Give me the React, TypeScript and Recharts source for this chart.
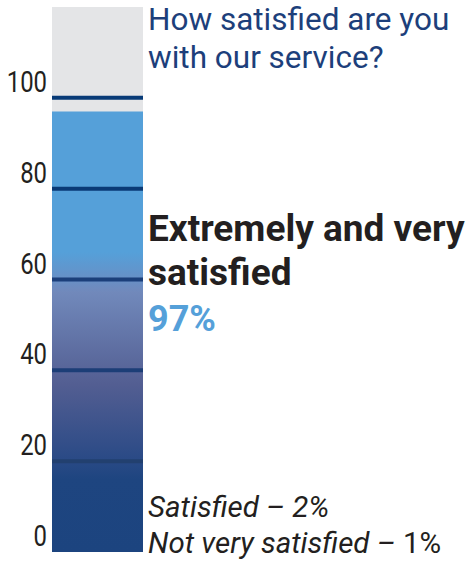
import React from 'react';
import { BarChart, Bar, XAxis, YAxis, ReferenceLine } from 'recharts';

const categories = ['Service'];
const satisfiedShare = [97];
const tickValues = [0, 20, 40, 60, 80, 100];
const gridLevels = [20, 40, 60, 80, 100];
const gridColors = ['#22406f', '#1c3e77', '#1b3f7a', '#0a3a76', '#073a77'];

const rows = categories.map((name, i) => ({ name, share: satisfiedShare[i] }));

const W = 468;
const H = 566;
const AXIS_W = 52;

const renderTick = (props: any) => {
  const { y, payload } = props;
  return (
    <text
      transform={`translate(${AXIS_W - 5}, ${y - 6}) scale(0.81, 1)`}
      textAnchor="end"
      fill="#231f20"
      fontSize={29.5}
      fontFamily="Roboto"
    >
      {payload.value}
    </text>
  );
};

export default function App() {
  return (
    <div style={{ position: 'absolute', left: 0, top: 0, width: W, height: H, background: '#fff' }}>
      <BarChart
        width={W}
        height={H}
        data={rows}
        margin={{ top: 7, right: W - 143, bottom: H - 552, left: 0 }}
        barCategoryGap={0}
      >
        <defs>
          <linearGradient id="satGrad" x1="0" y1="0" x2="0" y2="1">
            <stop offset="0" stopColor="#55a0d9" />
            <stop offset="0.32" stopColor="#55a0d9" />
            <stop offset="0.38" stopColor="#6790c6" />
            <stop offset="0.41" stopColor="#7189bb" />
            <stop offset="0.62" stopColor="#535e92" />
            <stop offset="0.79" stopColor="#2a4a86" />
            <stop offset="0.835" stopColor="#1e4580" />
            <stop offset="1" stopColor="#1c447f" />
          </linearGradient>
        </defs>
        <XAxis dataKey="name" hide />
        <YAxis
          width={AXIS_W}
          domain={[0, 120]}
          ticks={tickValues}
          axisLine={false}
          tickLine={false}
          tick={renderTick}
          interval={0}
        />
        <Bar
          dataKey="share"
          fill="url(#satGrad)"
          background={{ fill: '#e4e5e7' }}
          isAnimationActive={false}
        />
        {gridLevels.map((v, i) => (
          <ReferenceLine key={v} y={v} stroke={gridColors[i]} strokeWidth={4} />
        ))}
      </BarChart>
      <svg
        width={W}
        height={H}
        style={{ position: 'absolute', left: 0, top: 0, pointerEvents: 'none' }}
        fontFamily="Roboto"
      >
        <text x={148} y={30} fontSize={31.5} fill="#1d3f7b">How satisfied are you</text>
        <text x={148} y={68} fontSize={31.5} fill="#1d3f7b">with our service?</text>
        <text x={148} y={241} fontSize={37} fontWeight={700} fill="#231f20">Extremely and very</text>
        <text x={148} y={285} fontSize={37} fontWeight={700} fill="#231f20">satisfied</text>
        <text x={148} y={331} fontSize={36} fontWeight={700} fill="#55a0d9">97%</text>
        <text x={148} y={517} fontSize={29.5} fontStyle="italic" fill="#231f20">Satisfied – 2%</text>
        <text x={148} y={553} fontSize={29.5} fill="#231f20">
          <tspan fontStyle="italic">Not very satisfied – </tspan>
          <tspan>1%</tspan>
        </text>
      </svg>
    </div>
  );
}
